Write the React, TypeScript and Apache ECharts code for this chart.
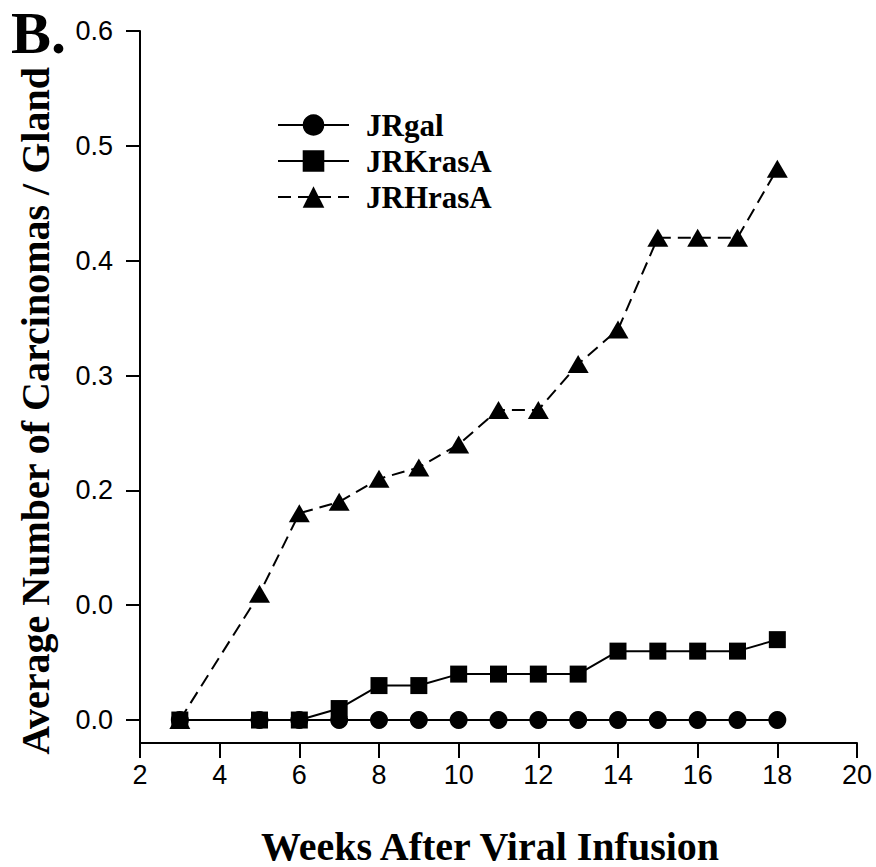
import React, { useEffect, useRef } from "react";
import * as echarts from "echarts";

const weeks = [3, 5, 6, 7, 8, 9, 10, 11, 12, 13, 14, 15, 16, 17, 18];
const jrgal = [0, 0, 0, 0, 0, 0, 0, 0, 0, 0, 0, 0, 0, 0, 0];
const jrkrasA = [0, 0, 0, 0.01, 0.03, 0.03, 0.04, 0.04, 0.04, 0.04, 0.06, 0.06, 0.06, 0.06, 0.07];
const jrhrasA = [0, 0.11, 0.18, 0.19, 0.21, 0.22, 0.24, 0.27, 0.27, 0.31, 0.34, 0.42, 0.42, 0.42, 0.48];
const seriesNames = ["JRgal", "JRKrasA", "JRHrasA"];
const yTickValues = [0, 0.1, 0.2, 0.3, 0.4, 0.5, 0.6];
const yTickLabels = ["0.0", "0.0", "0.2", "0.3", "0.4", "0.5", "0.6"];
const xTickValues = [2, 4, 6, 8, 10, 12, 14, 16, 18, 20];

const SERIF = "'Liberation Serif', 'Times New Roman', serif";
const SANS = "'Liberation Sans', Arial, Helvetica, sans-serif";

export default function App() {
  const ref = useRef<HTMLDivElement>(null);
  useEffect(() => {
    if (!ref.current) return;
    const chart = echarts.init(ref.current, undefined, { renderer: "svg" });
    const pair = (vals: number[]) => weeks.map((w, i) => [w, vals[i]]);
    chart.setOption({
      animation: false,
      backgroundColor: "#ffffff",
      grid: { left: 140, right: 19, top: 31, bottom: 124, containLabel: false },
      xAxis: {
        type: "value",
        min: 2,
        max: 20,
        interval: 2,
        axisLine: { show: true, onZero: false, lineStyle: { color: "#000", width: 2 } },
        axisTick: { show: true, inside: false, length: 15, lineStyle: { color: "#000", width: 2 }, customValues: xTickValues },
        axisLabel: { color: "#000", fontFamily: SANS, fontSize: 27, margin: 18, customValues: xTickValues },
        splitLine: { show: false },
      },
      yAxis: {
        type: "value",
        min: -0.02,
        max: 0.6,
        axisLine: { show: true, onZero: false, lineStyle: { color: "#000", width: 2 } },
        axisTick: { show: true, inside: false, length: 14, lineStyle: { color: "#000", width: 2 }, customValues: yTickValues },
        axisLabel: {
          color: "#000",
          fontFamily: SANS,
          fontSize: 27,
          margin: 27,
          customValues: yTickValues,
          formatter: (v: number) => {
            const i = yTickValues.findIndex((t) => Math.abs(t - v) < 1e-6);
            return i >= 0 ? yTickLabels[i] : "";
          },
        },
        splitLine: { show: false },
      },
      legend: {
        show: true,
        orient: "vertical",
        left: 272,
        top: 103,
        itemWidth: 71,
        itemHeight: 27,
        itemGap: 2,
        data: seriesNames,
        textStyle: {
          color: "#000",
          fontFamily: SERIF,
          fontWeight: "bold",
          fontSize: 31,
          lineHeight: 34,
          padding: [0, 0, 0, 12],
        },
      },
      series: [
        {
          name: seriesNames[0],
          type: "line",
          data: pair(jrgal),
          symbol: "circle",
          symbolSize: 18,
          z: 5,
          itemStyle: { color: "#000" },
          lineStyle: { color: "#000", width: 2, type: "solid" },
        },
        {
          name: seriesNames[1],
          type: "line",
          data: pair(jrkrasA),
          symbol: "rect",
          symbolSize: 17,
          z: 4,
          itemStyle: { color: "#000" },
          lineStyle: { color: "#000", width: 2, type: "solid" },
        },
        {
          name: seriesNames[2],
          type: "line",
          data: pair(jrhrasA),
          symbol: "triangle",
          symbolSize: [21, 18],
          z: 3,
          itemStyle: { color: "#000" },
          lineStyle: { color: "#000", width: 2, type: [13, 7] },
        },
      ],
      graphic: [
        {
          type: "text",
          left: 11,
          top: 3,
          style: { text: "B.", font: `bold 60px ${SERIF}`, fill: "#000" },
        },
        {
          type: "text",
          x: 35,
          y: 411,
          rotation: Math.PI / 2,
          style: {
            text: "Average Number of Carcinomas / Gland",
            font: `bold 40px ${SERIF}`,
            fill: "#000",
            textAlign: "center",
            textVerticalAlign: "middle",
          },
        },
        {
          type: "text",
          x: 490,
          y: 846,
          style: {
            text: "Weeks After Viral Infusion",
            font: `bold 40px ${SERIF}`,
            fill: "#000",
            textAlign: "center",
            textVerticalAlign: "middle",
          },
        },
      ],
    });
    return () => chart.dispose();
  }, []);
  return (
    <div
      ref={ref}
      style={{ position: "absolute", left: 0, top: 0, width: 876, height: 867, background: "#fff" }}
    />
  );
}
